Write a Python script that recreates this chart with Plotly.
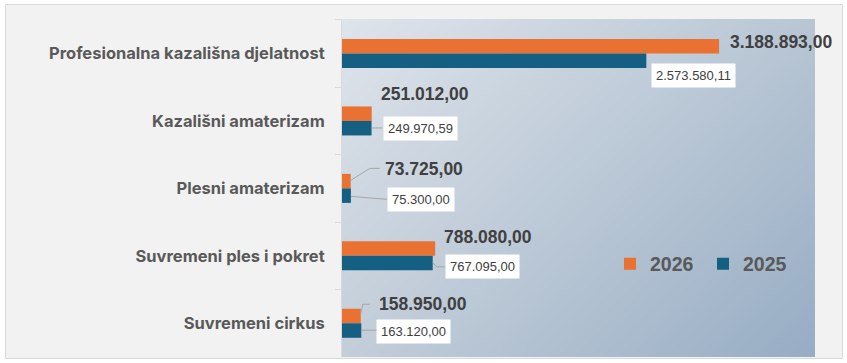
import base64, struct, zlib
import plotly.graph_objects as go

# ---------------- data ----------------
categories = [
    "Profesionalna kazališna djelatnost",
    "Kazališni amaterizam",
    "Plesni amaterizam",
    "Suvremeni ples i pokret",
    "Suvremeni cirkus",
]
values_2026 = [3188893.00, 251012.00, 73725.00, 788080.00, 158950.00]
values_2025 = [2573580.11, 249970.59, 75300.00, 767095.00, 163120.00]
series_names = ["2026", "2025"]

# ---------------- label placement (pixel offsets from bar end / category centre) ----------------
# (dx, dy) in screen pixels, dy positive = downwards
off_2026 = [(9, -12), (7, -27), (32, -19), (7, -19), (16, -19)]
off_2025 = [(5, 22), (11, 8), (36, 11), (12, 11), (15, 8)]
# leader lines: polyline points (dx, dy) relative to bar end / category centre
leaders_2026 = [None, None, [(0, -8), (19, -20), (29, -20)], None, [(0, -10), (2, -19), (9, -19)]]
leaders_2025 = [None, [(0, 7), (11, 7)], [(0, 8), (36, 11)], [(0, 7), (4, 11), (12, 11)], [(0, 7), (16, 7)]]

ORANGE = "#E97132"
BLUE = "#156082"

W, H = 847, 363
ML, MR, MT, MB = 342, 32, 19, 6
PW, PH = W - ML - MR, H - MT - MB


def fmt(v):
    s = f"{v:,.2f}"
    return s.replace(",", "X").replace(".", ",").replace("X", ".")


def png_uri(w, h, tl, tr, bl, br):
    raw = b""
    for j in range(h):
        fy = j / max(h - 1, 1)
        row = b"\x00"
        for i in range(w):
            fx = i / max(w - 1, 1)
            px = []
            for c in range(3):
                top = tl[c] * (1 - fx) + tr[c] * fx
                bot = bl[c] * (1 - fx) + br[c] * fx
                px.append(int(round(top * (1 - fy) + bot * fy)))
            row += bytes(px)
        raw += row

    def chunk(tag, data):
        c = struct.pack(">I", len(data)) + tag + data
        return c + struct.pack(">I", zlib.crc32(tag + data) & 0xFFFFFFFF)

    png = b"\x89PNG\r\n\x1a\n"
    png += chunk(b"IHDR", struct.pack(">IIBBBBB", w, h, 8, 2, 0, 0, 0))
    png += chunk(b"IDAT", zlib.compress(raw, 9))
    png += chunk(b"IEND", b"")
    return "data:image/png;base64," + base64.b64encode(png).decode()


bg_src = png_uri(120, 90, (222, 228, 235), (184, 198, 212), (195, 206, 217), (151, 173, 196))
g = (242, 242, 242)
panel_src = png_uri(2, 2, g, g, g, g)


def px_x(p):
    return (p - ML) / PW


def px_y(p):
    return (H - MB - p) / PH


fig = go.Figure()
fig.add_trace(go.Bar(y=categories, x=values_2026, orientation="h", name=series_names[0],
                     marker=dict(color=ORANGE, line=dict(width=0)), hoverinfo="skip"))
fig.add_trace(go.Bar(y=categories, x=values_2025, orientation="h", name=series_names[1],
                     marker=dict(color=BLUE, line=dict(width=0)), hoverinfo="skip"))

annotations = []
shapes = []
for i, cat in enumerate(categories):
    dx, dy = off_2026[i]
    annotations.append(dict(x=values_2026[i], y=i, xref="x", yref="y", text=fmt(values_2026[i]),
                            showarrow=False, xanchor="left", yanchor="middle", xshift=dx, yshift=-dy,
                            font=dict(family="Liberation Sans", size=17.5, color="#404040", weight="bold")))
    dx, dy = off_2025[i]
    annotations.append(dict(x=values_2025[i], y=i, xref="x", yref="y", text=fmt(values_2025[i]),
                            showarrow=False, xanchor="left", yanchor="middle", xshift=dx, yshift=-dy,
                            bgcolor="white", borderpad=4,
                            font=dict(family="Liberation Sans", size=13, color="#404040")))
    for vals, lead in ((values_2026, leaders_2026[i]), (values_2025, leaders_2025[i])):
        if lead:
            path = "M" + " L".join(f"{px},{-py}" for px, py in lead)
            shapes.append(dict(type="path", path=path, xref="x", yref="y",
                               xsizemode="pixel", ysizemode="pixel",
                               xanchor=vals[i], yanchor=i,
                               line=dict(color="#A6A6A6", width=1)))

# outer chart border
shapes.append(dict(type="rect", xref="paper", yref="paper",
                   x0=px_x(5.5), x1=px_x(842.5), y0=px_y(358.5), y1=px_y(4.5),
                   line=dict(color="#D9D9D9", width=1), fillcolor="rgba(0,0,0,0)", layer="below"))

fig.update_layout(
    width=W, height=H,
    margin=dict(l=ML, r=MR, t=MT, b=MB),
    paper_bgcolor="white",
    plot_bgcolor="rgba(0,0,0,0)",
    barmode="group", bargap=0.57, bargroupgap=0,
    images=[
        dict(source=panel_src, xref="paper", yref="paper", x=px_x(5), y=px_y(4),
             sizex=px_x(843) - px_x(5), sizey=px_y(4) - px_y(359),
             sizing="stretch", xanchor="left", yanchor="top", layer="below"),
        dict(source=bg_src, xref="paper", yref="paper", x=0, y=1, sizex=1, sizey=1,
             sizing="stretch", xanchor="left", yanchor="top", layer="below"),
    ],
    xaxis=dict(range=[0, 4000000], showticklabels=False, showgrid=False, zeroline=False,
               showline=False, ticks=""),
    yaxis=dict(autorange="reversed", showgrid=False, zeroline=False, showline=True,
               linecolor="#D9D9D9", linewidth=1, ticks="outside", ticklen=6, tickcolor="#D9D9D9",
               tickson="boundaries", ticklabelstandoff=13,
               tickfont=dict(family="Inter", size=16.5, color="#595959", weight="bold")),
    legend=dict(orientation="h", x=px_x(610), y=px_y(264), xanchor="left", yanchor="middle",
                bgcolor="rgba(0,0,0,0)", entrywidth=48,
                font=dict(family="Liberation Sans", size=19.5, color="#595959", weight="bold")),
    annotations=annotations,
    shapes=shapes,
    showlegend=True,
)

fig.write_html("out.html", config={"displayModeBar": False},
               post_script="document.body.style.margin='0px';")
